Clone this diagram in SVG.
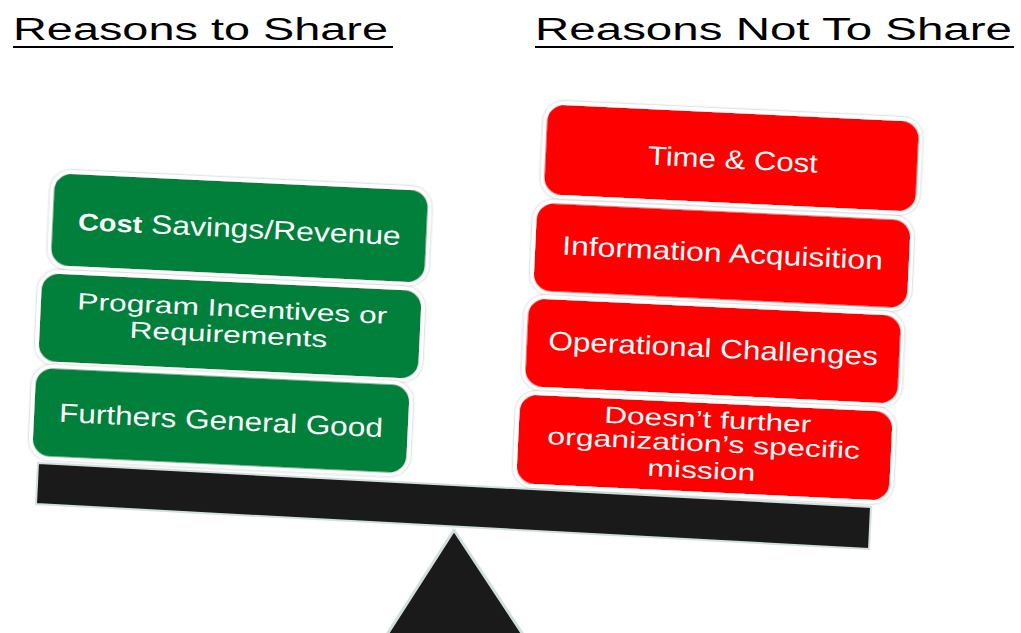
<svg xmlns="http://www.w3.org/2000/svg" width="1021" height="633" viewBox="0 0 1021 633">
<defs>
<style>
.head{font-family:"Liberation Sans",Arial,sans-serif;font-size:31px;fill:#000}
.ul{stroke:#000;stroke-width:2}
.box{stroke:#fff;stroke-width:4;filter:url(#sh)}
.g{fill:#02803A}
.r{fill:#FF0000}
.t{font-family:"Liberation Sans",Arial,sans-serif;font-size:26.5px;fill:#fff;text-anchor:middle}
.t2{font-family:"Liberation Sans",Arial,sans-serif;font-size:23.5px;fill:#fff;text-anchor:middle}
.b{font-weight:bold}
</style>
<filter id="sh" x="-5%" y="-10%" width="110%" height="120%">
<feDropShadow dx="0" dy="0" stdDeviation="1.2" flood-color="#8a9a9a" flood-opacity="0.8"/>
</filter>
</defs>
<rect width="1021" height="633" fill="#fff"/>

<g id="heading-left">
<text class="head" x="13" y="40" textLength="375" lengthAdjust="spacingAndGlyphs">Reasons to Share</text>
<line class="ul" x1="13" y1="47" x2="393" y2="47"/>
</g>
<g id="heading-right">
<text class="head" x="535" y="40" textLength="477" lengthAdjust="spacingAndGlyphs">Reasons Not To Share</text>
<line class="ul" x1="535" y1="47" x2="1014" y2="47"/>
</g>

<g id="fulcrum">
<polygon points="454,530 386,636 524,636" fill="#1a1a1a" stroke="#d3dfdf" stroke-width="3" stroke-linejoin="round"/>
</g>
<g id="beam">
<polygon points="38,463 871,507 869,549 36,504" fill="#1a1a1a" stroke="#d3dfdf" stroke-width="2"/>
</g>

<g id="g1" transform="rotate(2.7 239.5 228)">
<rect class="box g" x="50.5" y="180" width="378" height="96" rx="19"/>
<text class="t" x="239.5" y="237.5" textLength="323" lengthAdjust="spacingAndGlyphs"><tspan class="b" font-size="24">Cost</tspan> Savings/Revenue</text>
</g>
<g id="g2" transform="rotate(2.7 230 326)">
<rect class="box g" x="38" y="280" width="384" height="92" rx="19"/>
<text class="t2" x="231.5" y="316.4" textLength="310" lengthAdjust="spacingAndGlyphs">Program Incentives or</text>
<text class="t2" x="228.8" y="342.6" textLength="198" lengthAdjust="spacingAndGlyphs">Requirements</text>
</g>
<g id="g3" transform="rotate(2.7 221 420.5)">
<rect class="box g" x="32" y="374.5" width="378" height="92" rx="19"/>
<text class="t" x="221" y="429.5" textLength="324" lengthAdjust="spacingAndGlyphs">Furthers General Good</text>
</g>

<g id="r1" transform="rotate(2.7 731.5 158)">
<rect class="box r" x="543.5" y="111" width="376" height="94" rx="19"/>
<text class="t" x="733" y="168.5" textLength="170" lengthAdjust="spacingAndGlyphs">Time &amp; Cost</text>
</g>
<g id="r2" transform="rotate(2.7 722 255.5)">
<rect class="box r" x="533" y="209.5" width="378" height="92" rx="19"/>
<text class="t" x="722.5" y="262" textLength="321" lengthAdjust="spacingAndGlyphs">Information Acquisition</text>
</g>
<g id="r3" transform="rotate(2.7 713 351)">
<rect class="box r" x="524.5" y="305" width="377" height="92" rx="19"/>
<text class="t" x="713" y="357.5" textLength="330" lengthAdjust="spacingAndGlyphs">Operational Challenges</text>
</g>
<g id="r4" transform="rotate(2.7 704.5 447.5)">
<rect class="box r" x="516" y="401" width="377" height="93" rx="19"/>
<text class="t2" x="706.5" y="427.5" textLength="207" lengthAdjust="spacingAndGlyphs">Doesn’t further</text>
<text class="t2" x="703.5" y="451.5" textLength="313" lengthAdjust="spacingAndGlyphs">organization’s specific</text>
<text class="t2" x="702.5" y="478.5" textLength="108" lengthAdjust="spacingAndGlyphs">mission</text>
</g>
</svg>
